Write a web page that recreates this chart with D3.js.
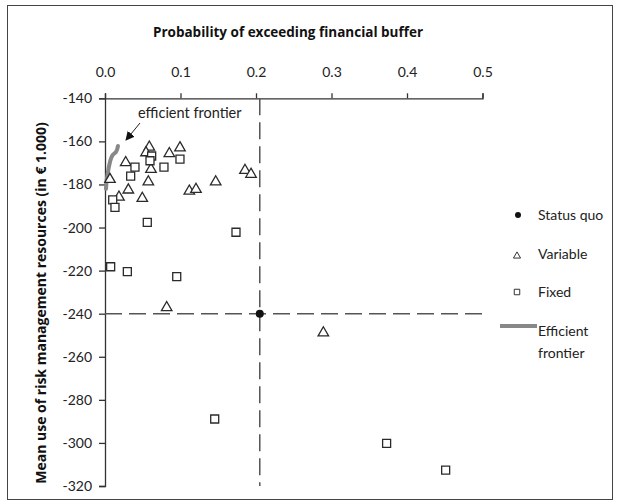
<!DOCTYPE html>
<html>
<head>
<meta charset="utf-8">
<script src="https://cdn.jsdelivr.net/npm/d3@7"></script>
<style>
  html, body { margin: 0; padding: 0; background: #fff; }
  svg { display: block; font-family: Lato, "Noto Sans", sans-serif; }
</style>
</head>
<body>
<svg id="chart" width="620" height="504"></svg>
<script>
// Probability of exceeding the buffer (x) vs mean use of resources (y)
const xTicks = [0.0, 0.1, 0.2, 0.3, 0.4, 0.5];
const yTicks = [-140, -160, -180, -200, -220, -240, -260, -280, -300, -320];

const statusQuoX = [0.205];
const statusQuoY = [-240];

const variableX = [0.0066, 0.0274, 0.0309, 0.0185, 0.0494, 0.0587, 0.0543, 0.0609, 0.0574,
                   0.0852, 0.0993, 0.1117, 0.1205, 0.1466, 0.1854, 0.1934, 0.0817, 0.2892];
const variableY = [-177.2, -169.4, -182.1, -185.4, -186.0, -162.2, -164.8, -172.5, -178.3,
                   -165.2, -162.5, -182.6, -181.8, -178.3, -173.0, -174.8, -236.7, -248.4];

const fixedX = [0.0397, 0.0340, 0.0102, 0.0132, 0.0618, 0.0596, 0.0781, 0.0993,
                0.0560, 0.1735, 0.0075, 0.0296, 0.0950, 0.1453, 0.3730, 0.4512];
const fixedY = [-172.0, -176.1, -187.2, -190.6, -166.8, -169.0, -172.0, -168.2,
                -197.6, -202.2, -218.2, -220.5, -222.8, -288.9, -300.2, -312.6];

const frontierX = [0.0172, 0.0146, 0.0102, 0.0066, 0.0044, 0.0023, 0.0013];
const frontierY = [-162.1, -164.9, -166.3, -169.6, -173.3, -177.9, -182.0];

const svg = d3.select("#chart");

// outer frame
svg.append("rect").attr("x", 7.5).attr("y", 5.5).attr("width", 605).attr("height", 494)
  .attr("fill", "none").attr("stroke", "#444").attr("stroke-width", 1);

const x = d3.scaleLinear().domain([0, 0.5]).range([105, 482.5]);
const y = d3.scaleLinear().domain([-140, -320]).range([98.3, 486]);

// top x axis
const xAxis = svg.append("g").attr("transform", `translate(0,${y(-140)})`)
  .call(d3.axisTop(x).tickValues(xTicks).tickFormat(d3.format(".1f")).tickSize(5).tickPadding(16));
xAxis.select(".domain").attr("stroke", "#333").attr("stroke-width", 1.3);
xAxis.selectAll(".tick line").attr("stroke", "#333").attr("stroke-width", 1.3);
xAxis.selectAll("text").attr("font-size", 14).attr("fill", "#222")
  .attr("font-family", "Lato, sans-serif");

// left y axis
const yAxis = svg.append("g").attr("transform", `translate(${x(0)},0)`)
  .call(d3.axisLeft(y).tickValues(yTicks).tickFormat(d3.format("d")).tickSize(6).tickPadding(7));
yAxis.select(".domain").attr("stroke", "#333").attr("stroke-width", 1.3);
yAxis.selectAll(".tick line").attr("stroke", "#333").attr("stroke-width", 1.3);
yAxis.selectAll("text").attr("font-size", 14).attr("fill", "#222")
  .attr("font-family", "Lato, sans-serif").text(d => String(d));

// axis titles
svg.append("text").attr("x", 288).attr("y", 37).attr("text-anchor", "middle")
  .attr("font-family", "'Open Sans', sans-serif")
  .attr("font-size", 13.5).attr("font-weight", "bold").attr("fill", "#111")
  .text("Probability of exceeding financial buffer");

svg.append("text").attr("transform", "translate(46,303) rotate(-90)")
  .attr("font-family", "'Open Sans', sans-serif")
  .attr("text-anchor", "middle").attr("font-size", 14).attr("font-weight", "bold").attr("fill", "#111")
  .text("Mean use of risk management resources (in € 1.000)");

// status quo reference lines
const dash = "17,7";
svg.append("line")
  .attr("x1", x(statusQuoX[0])).attr("x2", x(statusQuoX[0]))
  .attr("y1", y(-140)).attr("y2", y(-320))
  .attr("stroke", "#555").attr("stroke-width", 1.5).attr("stroke-dasharray", dash);
svg.append("line")
  .attr("x1", x(0)).attr("x2", x(0.5))
  .attr("y1", y(statusQuoY[0])).attr("y2", y(statusQuoY[0]))
  .attr("stroke", "#555").attr("stroke-width", 1.5).attr("stroke-dasharray", dash);

// efficient frontier
const frontier = frontierX.map((d, i) => [d, frontierY[i]]);
svg.append("path").datum(frontier)
  .attr("d", d3.line().x(d => x(d[0])).y(d => y(d[1])).curve(d3.curveMonotoneY))
  .attr("fill", "none").attr("stroke", "#888").attr("stroke-width", 4).attr("stroke-linecap", "round");

const tri = d3.symbol().type(d3.symbolTriangle).size(48);
const sq = d3.symbol().type(d3.symbolSquare).size(64);

// variable strategies (triangles)
svg.append("g").selectAll("path").data(variableX.map((d, i) => [d, variableY[i]])).join("path")
  .attr("transform", d => `translate(${x(d[0])},${y(d[1]) + 1})`)
  .attr("d", tri).attr("fill", "#fff").attr("stroke", "#2a2a2a").attr("stroke-width", 1.3);

// fixed strategies (squares)
svg.append("g").selectAll("path").data(fixedX.map((d, i) => [d, fixedY[i]])).join("path")
  .attr("transform", d => `translate(${x(d[0])},${y(d[1])})`)
  .attr("d", sq).attr("fill", "#fff").attr("stroke", "#2a2a2a").attr("stroke-width", 1.3);

// status quo
svg.append("g").selectAll("circle").data(statusQuoX.map((d, i) => [d, statusQuoY[i]])).join("circle")
  .attr("cx", d => x(d[0])).attr("cy", d => y(d[1])).attr("r", 4).attr("fill", "#111");

// annotation
svg.append("text").attr("x", 138).attr("y", 118).attr("font-size", 14.5).attr("fill", "#222")
  .text("efficient frontier");
svg.append("defs").append("marker").attr("id", "ah").attr("viewBox", "0 0 10 10")
  .attr("refX", 9).attr("refY", 5).attr("markerWidth", 9).attr("markerHeight", 9)
  .attr("orient", "auto").attr("markerUnits", "userSpaceOnUse")
  .append("path").attr("d", "M0,0 L10,5 L0,10 Z").attr("fill", "#111");
svg.append("line").attr("x1", 140).attr("y1", 123).attr("x2", 126).attr("y2", 140)
  .attr("stroke", "#222").attr("stroke-width", 1).attr("marker-end", "url(#ah)");

// legend
const lg = svg.append("g").attr("font-size", 14).attr("fill", "#222");
lg.append("circle").attr("cx", 518).attr("cy", 215).attr("r", 3).attr("fill", "#111");
lg.append("text").attr("x", 538).attr("y", 220).text("Status quo");
lg.append("path").attr("transform", "translate(517,256)")
  .attr("d", d3.symbol().type(d3.symbolTriangle).size(22)).attr("fill", "#fff")
  .attr("stroke", "#333").attr("stroke-width", 1);
lg.append("text").attr("x", 538).attr("y", 259).text("Variable");
lg.append("path").attr("transform", "translate(517,292)")
  .attr("d", d3.symbol().type(d3.symbolSquare).size(30)).attr("fill", "#fff")
  .attr("stroke", "#333").attr("stroke-width", 1);
lg.append("text").attr("x", 538).attr("y", 297).text("Fixed");
lg.append("line").attr("x1", 500).attr("x2", 537).attr("y1", 326).attr("y2", 326)
  .attr("stroke", "#888").attr("stroke-width", 4);
lg.append("text").attr("x", 538).attr("y", 336).text("Efficient");
lg.append("text").attr("x", 538).attr("y", 358).text("frontier");
</script>
</body>
</html>
